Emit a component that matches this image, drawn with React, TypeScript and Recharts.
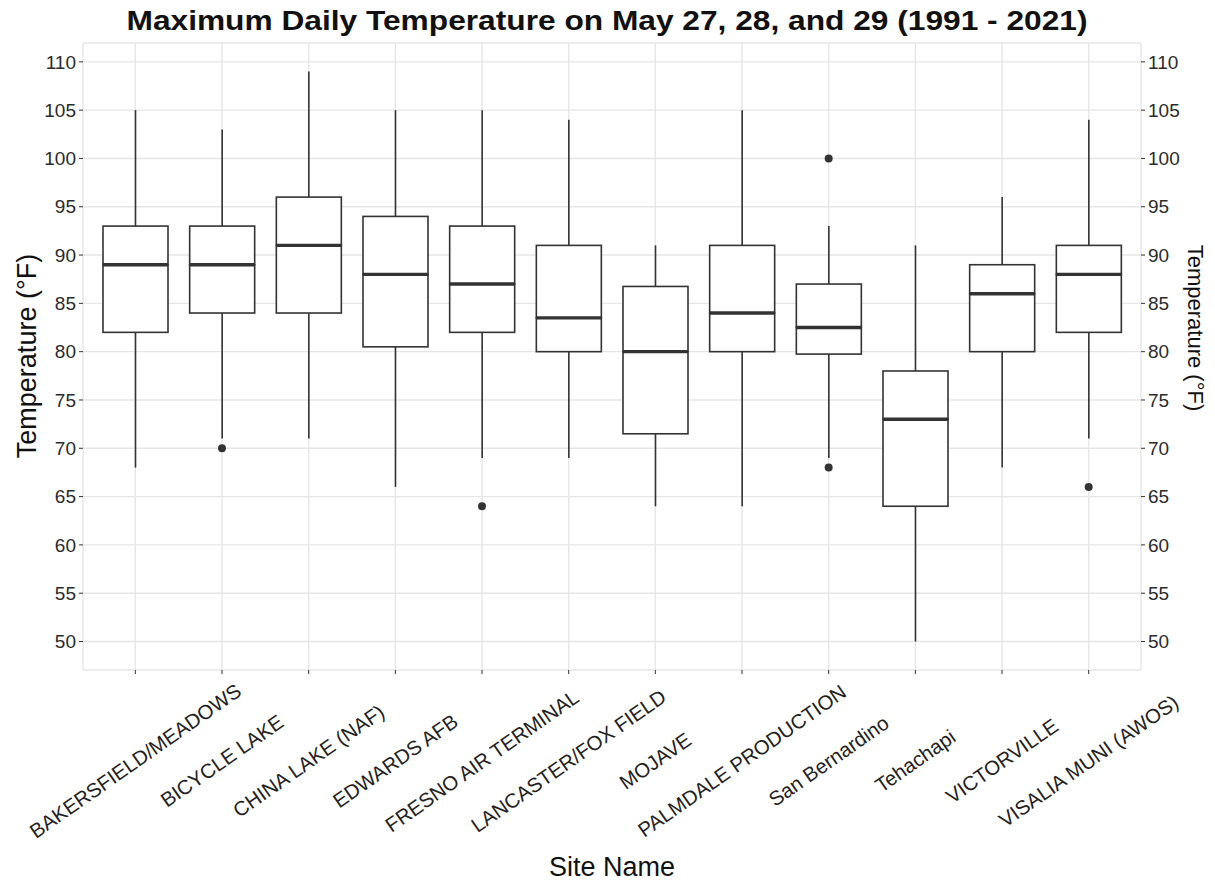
import React from "react";
import {
  ComposedChart,
  Bar,
  Scatter,
  XAxis,
  YAxis,
  CartesianGrid,
} from "recharts";

// ---- data ----
const sites = [
  "BAKERSFIELD/MEADOWS",
  "BICYCLE LAKE",
  "CHINA LAKE (NAF)",
  "EDWARDS AFB",
  "FRESNO AIR TERMINAL",
  "LANCASTER/FOX FIELD",
  "MOJAVE",
  "PALMDALE PRODUCTION",
  "San Bernardino",
  "Tehachapi",
  "VICTORVILLE",
  "VISALIA MUNI (AWOS)",
];
const whiskerLow = [68, 71, 71, 66, 69, 69, 64, 64, 69, 50, 68, 71];
const q1 = [82, 84, 84, 80.5, 82, 80, 71.5, 80, 79.75, 64, 80, 82];
const median = [89, 89, 91, 88, 87, 83.5, 80, 84, 82.5, 73, 86, 88];
const q3 = [93, 93, 96, 94, 93, 91, 86.75, 91, 87, 78, 89, 91];
const whiskerHigh = [105, 103, 109, 105, 105, 104, 91, 105, 93, 91, 96, 104];
const outlierHigh: (number | null)[] = [null, null, null, null, null, null, null, null, 100, null, null, null];
const outlierLow: (number | null)[] = [null, 70, null, null, 64, null, null, null, 68, null, null, 66];
const yTicks = [50, 55, 60, 65, 70, 75, 80, 85, 90, 95, 100, 105, 110];
const yMinor = [52.5, 57.5, 62.5, 67.5, 72.5, 77.5, 82.5, 87.5, 92.5, 97.5, 102.5, 107.5];
const yDomain: [number, number] = [47.05, 111.95];

const title = "Maximum Daily Temperature on May 27, 28, and 29 (1991 - 2021)";
const yTitle = "Temperature (°F)";
const xTitle = "Site Name";

const rows = sites.map((site, i) => ({
  site,
  base: whiskerLow[i],
  lowWhisker: q1[i] - whiskerLow[i],
  lowerBox: median[i] - q1[i],
  upperBox: q3[i] - median[i],
  highWhisker: whiskerHigh[i] - q3[i],
  outHigh: outlierHigh[i],
  outLow: outlierLow[i],
}));

const FONT = "'Liberation Sans', Arial, Helvetica, sans-serif";
const INK = "#333333";

const Empty = () => <g />;

const Whisker = (p: any) => {
  const cx = p.x + p.width / 2;
  return <line x1={cx} x2={cx} y1={p.y} y2={p.y + p.height} stroke={INK} strokeWidth={1.6} />;
};

const LowerBox = (p: any) => (
  <rect x={p.x} y={p.y} width={p.width} height={p.height} fill="#FFFFFF" stroke={INK} strokeWidth={1.6} />
);

const UpperBox = (p: any) => (
  <g>
    <rect x={p.x} y={p.y} width={p.width} height={p.height} fill="#FFFFFF" stroke={INK} strokeWidth={1.6} />
    <line x1={p.x} x2={p.x + p.width} y1={p.y + p.height} y2={p.y + p.height} stroke={INK} strokeWidth={3.4} />
  </g>
);

const Dot = (p: any) => {
  const field = p.field;
  if (p.cy == null || !isFinite(p.cy)) return <g />;
  if (field && p.payload && p.payload[field] == null) return <g />;
  return <circle cx={p.cx} cy={p.cy} r={4} fill={INK} />;
};

const XTick = (p: any) => {
  const x = p.x;
  const cy = 761;
  return (
    <g>
      <text
        x={x}
        y={cy}
        transform={`rotate(-35, ${x}, ${cy})`}
        textAnchor="middle"
        dominantBaseline="central"
        fontSize={20.3}
        fontFamily={FONT}
        fill="#222"
      >
        {p.payload.value}
      </text>
    </g>
  );
};

const minorGen = (props: any) => {
  const ax = props && props.yAxis;
  if (ax && typeof ax.scale === "function") {
    return [...yMinor, yDomain[0], yDomain[1]].map((v) => ax.scale(v));
  }
  return [];
};

export default function App() {
  return (
    <div style={{ position: "absolute", left: 0, top: 0, width: 1215, height: 884, background: "#fff", fontFamily: FONT }}>
      <ComposedChart
        width={1215}
        height={884}
        data={rows}
        margin={{ top: 43, right: 0, bottom: 0, left: 0 }}
        barSize={65}
      >
        <CartesianGrid yAxisId="left" vertical={false} horizontalCoordinatesGenerator={minorGen} stroke="#EFEFEF" strokeWidth={1} />
        <CartesianGrid yAxisId="left" stroke="#E6E6E6" strokeWidth={1.4} />
        <XAxis
          dataKey="site"
          type="category"
          height={214}
          padding={{ left: 9, right: 9 }}
          axisLine={false}
          tickLine={{ stroke: INK }}
          tickSize={4}
          interval={0}
          tick={<XTick />}
        />
        <YAxis
          yAxisId="left"
          orientation="left"
          width={83}
          domain={yDomain}
          allowDataOverflow
          ticks={yTicks}
          interval={0}
          axisLine={false}
          tickLine={{ stroke: INK }}
          tickSize={4}
          tickMargin={3}
          tick={{ fontSize: 19, fill: "#2b2b2b", fontFamily: FONT }}
        />
        <YAxis
          yAxisId="right"
          orientation="right"
          width={74}
          domain={yDomain}
          allowDataOverflow
          ticks={yTicks}
          interval={0}
          axisLine={false}
          tickLine={{ stroke: INK }}
          tickSize={4}
          tickMargin={3}
          tick={{ fontSize: 19, fill: "#2b2b2b", fontFamily: FONT }}
        />
        <Bar yAxisId="left" dataKey="base" stackId="box" shape={<Empty />} isAnimationActive={false} />
        <Bar yAxisId="left" dataKey="lowWhisker" stackId="box" shape={<Whisker />} isAnimationActive={false} />
        <Bar yAxisId="left" dataKey="lowerBox" stackId="box" shape={<LowerBox />} isAnimationActive={false} />
        <Bar yAxisId="left" dataKey="upperBox" stackId="box" shape={<UpperBox />} isAnimationActive={false} />
        <Bar yAxisId="left" dataKey="highWhisker" stackId="box" shape={<Whisker />} isAnimationActive={false} />
        <Scatter yAxisId="left" dataKey="outLow" shape={<Dot field="outLow" />} isAnimationActive={false} />
        <Scatter yAxisId="left" dataKey="outHigh" shape={<Dot field="outHigh" />} isAnimationActive={false} />
      </ComposedChart>
      <svg
        width={1215}
        height={884}
        style={{ position: "absolute", left: 0, top: 0, pointerEvents: "none" }}
      >
        <text x={607} y={30} textAnchor="middle" fontSize={28} fontWeight="bold" fontFamily={FONT} fill="#111" textLength={961} lengthAdjust="spacingAndGlyphs">
          {title}
        </text>
        <text x={36} y={356} transform="rotate(-90, 36, 356)" textAnchor="middle" fontSize={27} fontFamily={FONT} fill="#111">
          {yTitle}
        </text>
        <text x={1188} y={328} transform="rotate(90, 1188, 328)" textAnchor="middle" fontSize={22} fontFamily={FONT} fill="#111">
          {yTitle}
        </text>
        <text x={612} y={876} textAnchor="middle" fontSize={27} fontFamily={FONT} fill="#111">
          {xTitle}
        </text>
      </svg>
    </div>
  );
}
